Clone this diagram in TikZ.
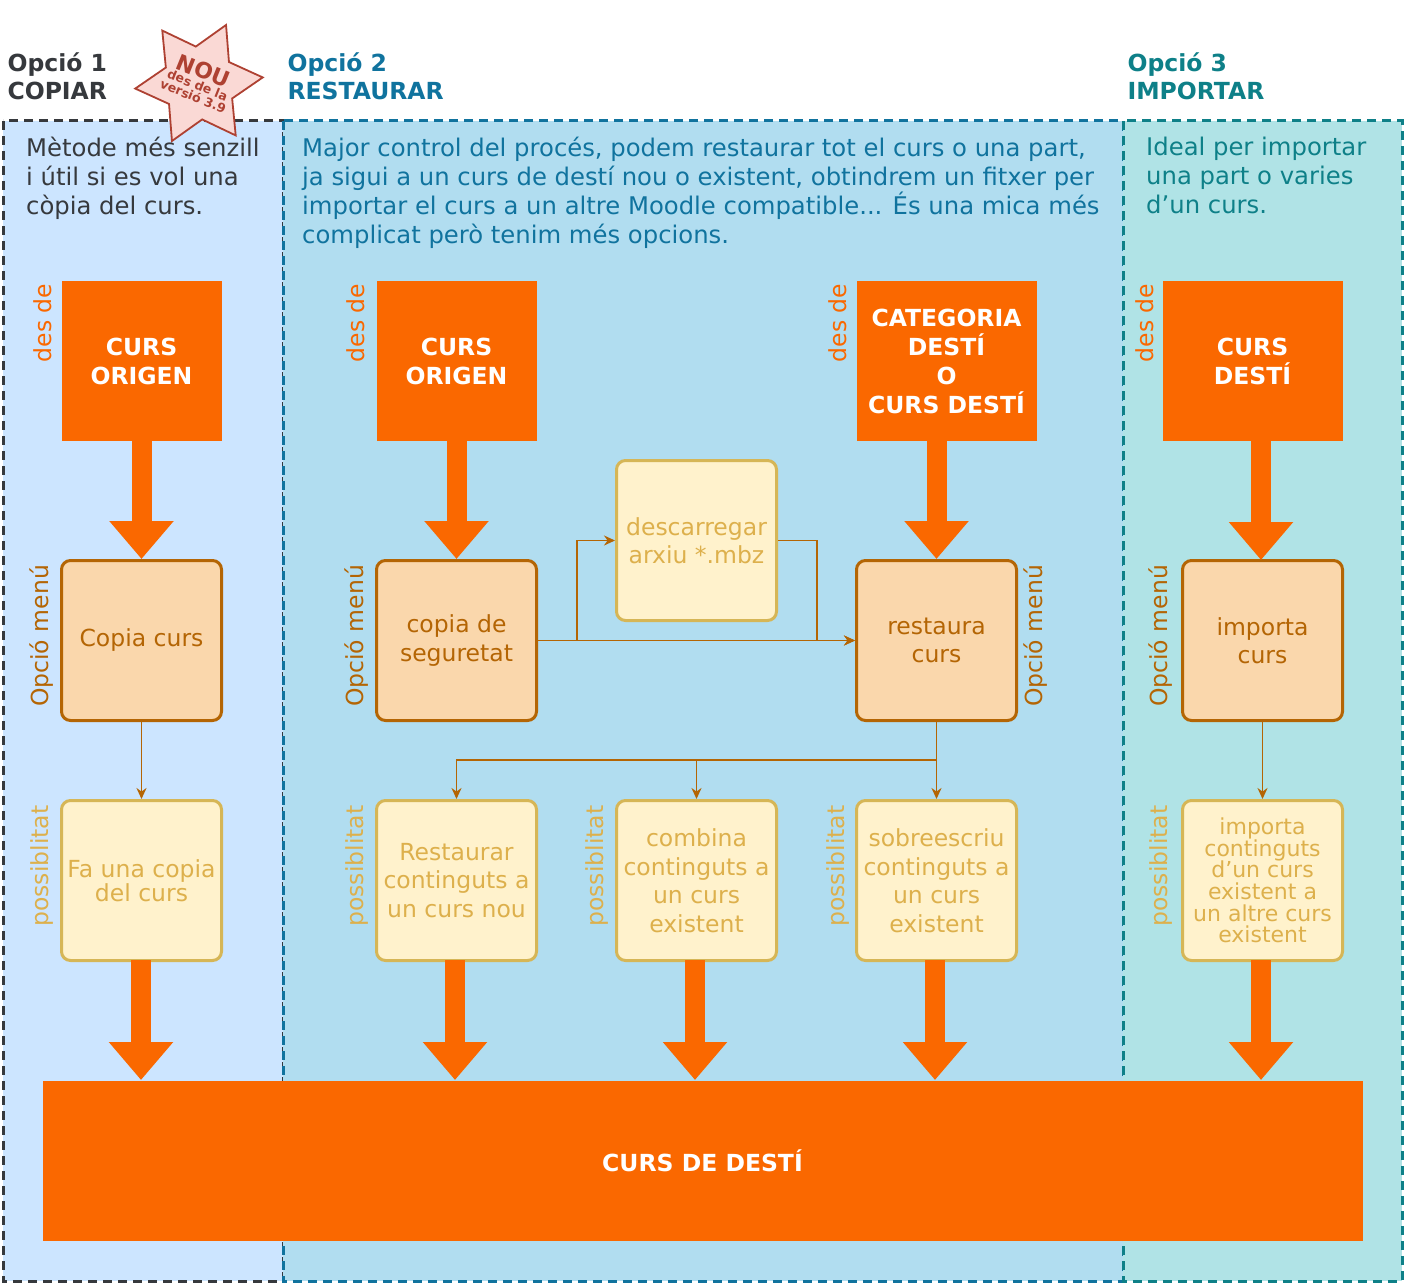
\documentclass[tikz,border=0pt]{standalone}
\usepackage{fontspec}
\setmainfont{DejaVu Sans}
\usetikzlibrary{arrows.meta,shapes.geometric}
\definecolor{dorange}{HTML}{FA6800}
\definecolor{mfill}{HTML}{FAD7AC}
\definecolor{mline}{HTML}{B46504}
\definecolor{pfill}{HTML}{FFF2CC}
\definecolor{pline}{HTML}{D6B656}
\definecolor{ptext}{HTML}{DDB04C}
\definecolor{bgone}{HTML}{CCE5FF}
\definecolor{bgtwo}{HTML}{B1DDF0}
\definecolor{bgthree}{HTML}{B0E3E6}
\definecolor{lnone}{HTML}{36393D}
\definecolor{lntwo}{HTML}{10739E}
\definecolor{lnthree}{HTML}{0E8088}
\definecolor{starfill}{HTML}{FAD9D5}
\definecolor{starline}{HTML}{AE4132}
\tikzset{
	panel/.style={draw=#1, line width=3pt, dash pattern=on 9pt off 6pt},
	src/.style={fill=dorange, text=white, font=\fontsize{23.5}{29}\selectfont\bfseries, align=center, minimum height=160pt, inner sep=0},
	menu/.style={draw=mline, fill=mfill, text=mline, line width=3pt, rounded corners=9pt, minimum width=160pt, minimum height=160pt, align=center, font=\fontsize{23.5}{28.5}\selectfont, inner sep=1pt},
	poss/.style={draw=pline, fill=pfill, text=ptext, line width=3pt, rounded corners=9pt, minimum width=160pt, minimum height=160pt, align=center, font=\fontsize{23.5}{28.5}\selectfont, inner sep=1pt},
	side/.style={rotate=90, font=\fontsize{23.5}{28}\selectfont},
	big/.style={draw=dorange, line width=20pt, -{Triangle[length=38pt,width=62pt]}},
	thin/.style={draw=mline, line width=1.8pt, -{Stealth[length=11pt,width=10pt]}},
	head/.style={anchor=west, align=left, font=\fontsize{23.5}{28}\selectfont\bfseries},
	desc/.style={anchor=north west, align=left, inner sep=0, font=\fontsize{24.3}{29}\selectfont},
}
\begin{document}
\begin{tikzpicture}[x=1pt, y=-1pt]
	\useasboundingbox (0,0) rectangle (1404,1284);

	% panels
	\filldraw[fill=bgone, panel=lnone] (3,121) rectangle (283,1281);
	\filldraw[fill=bgtwo, panel=lntwo] (283,121) rectangle (1123,1281);
	\filldraw[fill=bgthree, panel=lnthree] (1123,121) rectangle (1402,1281);

	\node[head, text=lnone] (h1) at (4,76) {Opció 1\\COPIAR};
	\node[head, text=lntwo] (h2) at (284,76) {Opció 2\\RESTAURAR};
	\node[head, text=lnthree] (h3) at (1124,76) {Opció 3\\IMPORTAR};

	\node[star, star points=6, star point ratio=1.75, minimum size=128pt, rotate=-25, draw=starline, fill=starfill, line width=1.8pt] (nou) at (199,83) {};
	\node[rotate=-22, text=starline, align=center, font=\fontsize{12.5}{12}\selectfont\bfseries] (noutxt) at (199,82) {{\fontsize{22}{20}\selectfont NOU}\\des de la\\versió 3.9};

	\node[desc, text=lnone] (d1) at (26,137) {Mètode més senzill\\i útil si es vol una\\còpia del curs.};
	\node[desc, text=lntwo] (d2) at (302,137) {Major control del procés, podem restaurar tot el curs o una part,\\ja sigui a un curs de destí nou o existent, obtindrem un fitxer per\\importar el curs a un altre Moodle compatible... És una mica més\\complicat però tenim més opcions.};
	\node[desc, text=lnthree] (d3) at (1146,137) {Ideal per importar\\una part o varies\\d'un curs.};

	% origin boxes
	\node[src, minimum width=160pt] (s1) at (141.5,361) {CURS\\ORIGEN};
	\node[src, minimum width=160pt] (s2) at (456.5,361) {CURS\\ORIGEN};
	\node[src, minimum width=180pt] (s3) at (946.5,361) {CATEGORIA\\DESTÍ\\O\\CURS DESTÍ};
	\node[src, minimum width=180pt] (s4) at (1252.5,361) {CURS\\DESTÍ};

	% menu boxes
	\node[menu] (m1) at (141.5,640.5) {Copia curs};
	\node[menu] (m2) at (456.5,640.5) {copia de\\seguretat};
	\node[menu] (m3) at (936.5,640.5) {restaura\\curs};
	\node[menu] (m4) at (1262.5,640.5) {importa\\curs};
	\node[poss] (dl) at (696.5,540.5) {descarregar\\arxiu *.mbz};

	% possibility boxes
	\node[poss, font=\fontsize{23.5}{21}\selectfont] (p1) at (141.5,880.5) {Fa una copia\\del curs};
	\node[poss] (p2) at (456.5,880.5) {Restaurar\\continguts a\\un curs nou};
	\node[poss] (p3) at (696.5,880.5) {combina\\continguts a\\un curs\\existent};
	\node[poss] (p4) at (936.5,880.5) {sobreescriu\\continguts a\\un curs\\existent};
	\node[poss, font=\fontsize{22}{21.6}\selectfont] (p5) at (1262.5,880.5) {importa\\continguts\\d'un curs\\existent a\\un altre curs\\existent};

	\node[src, minimum width=1320pt] (dest) at (702.5,1160.5) {CURS DE DESTÍ};

	% side labels
	\foreach \x/\n in {43/a, 356/b, 838/c, 1145/d}
		\node[side, text=dorange] (des\n) at (\x,323) {des de};
	\foreach \x/\n in {42/a, 357/b, 1036/c, 1161/d}
		\node[side, text=mline] (om\n) at (\x,636) {Opció menú};
	\foreach \x/\n in {42/a, 357/b, 597/c, 838/d, 1161/e}
		\node[side, text=ptext] (ps\n) at (\x,866) {possiblitat};

	% big arrows
	\draw[big] (s1.south) -- (m1.north);
	\draw[big] (s2.south) -- (m2.north);
	\draw[big] (936.5,440) -- (m3.north);
	\draw[big] (1261,440) -- (1261,560);
	\foreach \n/\x in {p1/141, p2/455, p3/695, p4/935, p5/1261}
		\draw[big] (\x,960) -- (\x,1080);

	% thin arrows
	\draw[thin] (m1.south) -- (p1.north);
	\draw[thin] (m4.south) -- (p5.north);
	\draw[thin] (m2.east) -- (m3.west);
	\draw[thin] (m2.east) -| (577,540.5) -- (dl.west);
	\draw[thin] (dl.east) -- (817,540.5) |- (m3.west);
	\draw[thin] (m3.south) -- (936.5,760) -| (p2.north);
	\draw[thin] (936.5,760) -| (p3.north);
	\draw[thin] (m3.south) -- (p4.north);
\end{tikzpicture}
\end{document}
